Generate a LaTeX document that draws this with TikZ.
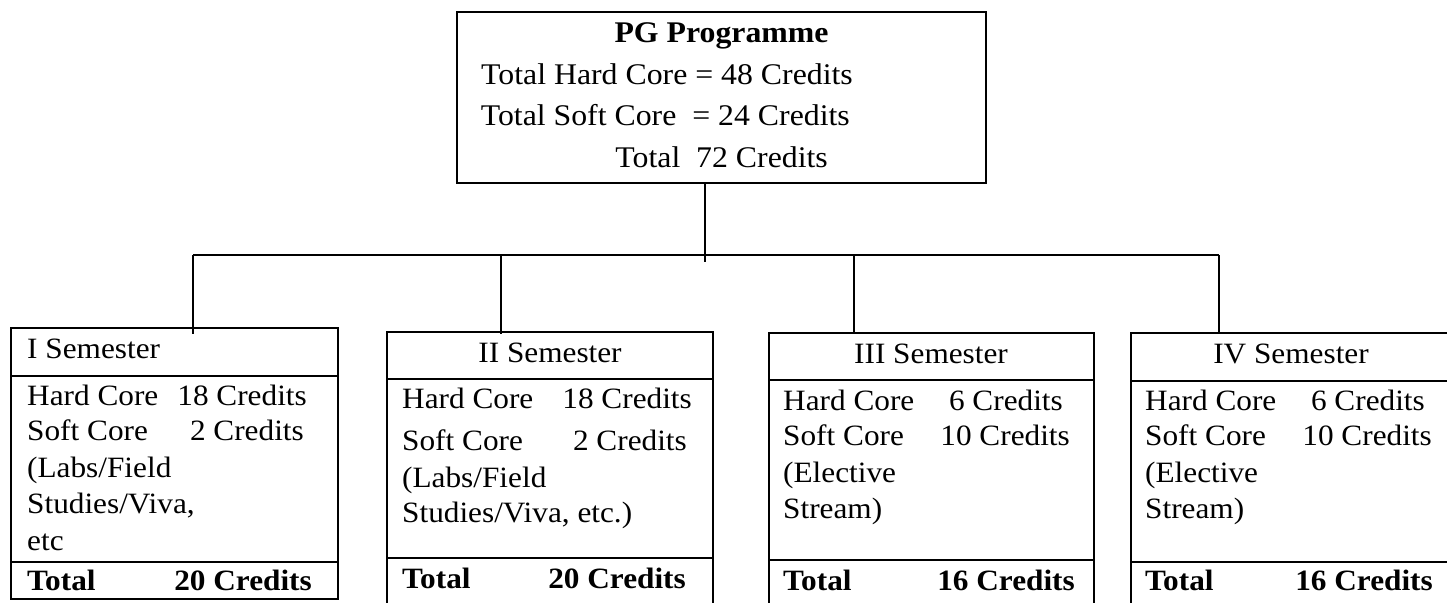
\documentclass[tikz,border=0pt]{standalone}
\usepackage{fontspec}
\setmainfont[FakeStretch=1.06]{Liberation Serif}
\newcommand\fsA{\fontsize{30}{36}\selectfont}
\newcommand\fsB{\fontsize{29.5}{35}\selectfont}
\begin{document}
\begin{tikzpicture}[x=1pt,y=-1pt,
  frame/.style={draw, line width=2pt, inner sep=0pt, outer sep=0pt, anchor=north west},
  conn/.style={draw, line width=2pt},
  rule/.style={draw, line width=2pt},
  ttl/.style={anchor=base, inner sep=0pt, font=\fsA},
  tl/.style={anchor=base west, inner sep=0pt, font=\fsA},
  tr/.style={anchor=base east, inner sep=0pt, font=\fsA},
  sl/.style={anchor=base west, inner sep=0pt, font=\fsB},
  sr/.style={anchor=base east, inner sep=0pt, font=\fsB},
  sc/.style={anchor=base, inner sep=0pt, font=\fsB}]
\useasboundingbox (0,0) rectangle (1447,602);
\clip (0,0) rectangle (1447,602);

% top box
\node[frame, minimum width=529pt, minimum height=171pt] (top) at (457,12) {};
\node[ttl] (pg) at (721.5,43) {\textbf{PG Programme}};
\node[tr] (thc) at (853,84) {Total Hard Core = 48 Credits};
\node[tr] (tsc) at (850,125) {Total Soft Core\ \ = 24 Credits};
\node[tr] (tt) at (828,167) {Total\ \ 72 Credits};

% semester boxes
\node[frame, minimum width=327pt, minimum height=271pt] (b1) at (11,328) {};
\node[frame, minimum width=326pt, minimum height=300pt] (b2) at (387,332) {};
\node[frame, minimum width=325pt, minimum height=300pt] (b3) at (769,333) {};
\node[frame, minimum width=320pt, minimum height=300pt] (b4) at (1131,333) {};

% dividers
\draw[rule] (b1.west |- 0,376) -- (b1.east |- 0,376);
\draw[rule] (b1.west |- 0,562) -- (b1.east |- 0,562);
\draw[rule] (b2.west |- 0,379) -- (b2.east |- 0,379);
\draw[rule] (b2.west |- 0,558) -- (b2.east |- 0,558);
\draw[rule] (b3.west |- 0,380) -- (b3.east |- 0,380);
\draw[rule] (b3.west |- 0,560) -- (b3.east |- 0,560);
\draw[rule] (b4.west |- 0,381) -- (b4.east |- 0,381);
\draw[rule] (b4.west |- 0,562) -- (b4.east |- 0,562);

% connectors
\coordinate (trk) at (705,262);
\coordinate (busL) at (193,255);
\coordinate (busR) at (1219,255);
\coordinate (d1) at (193,334);
\coordinate (d2) at (501,334);
\coordinate (d3) at (854,334);
\coordinate (d4) at (1219,334);
\draw[conn] (top.south -| trk) -- (trk);
\draw[conn] (busL) -- (busR);
\draw[conn] (busL) -- (d1);
\draw[conn] (d2 |- busL) -- (d2);
\draw[conn] (d3 |- busL) -- (d3);
\draw[conn] (busR) -- (d4);

% box 1 text
\node[sl] (h1) at (27,358) {I Semester};
\node[sl] (a1) at (27,405) {Hard Core};
\node[sr] (a1v) at (307,405) {18 Credits};
\node[sl] (c1) at (27,440) {Soft Core};
\node[sr] (c1v) at (304,440) {2 Credits};
\node[sl] (e1) at (27,477) {(Labs/Field};
\node[sl] (f1) at (27,513) {Studies/Viva,};
\node[sl] (g1) at (27,550) {etc};
\node[sl] (t1) at (27,590) {\textbf{Total}};
\node[sr] (t1v) at (312,590) {\textbf{20 Credits}};

% box 2 text
\node[sc] (h2) at (550,362) {II Semester};
\node[sl] (a2) at (402,408) {Hard Core};
\node[sr] (a2v) at (692,408) {18 Credits};
\node[sl] (c2) at (402,450) {Soft Core};
\node[sr] (c2v) at (687,450) {2 Credits};
\node[sl] (e2) at (402,487) {(Labs/Field};
\node[sl] (f2) at (402,522) {Studies/Viva, etc.)};
\node[sl] (t2) at (402,588) {\textbf{Total}};
\node[sr] (t2v) at (686,588) {\textbf{20 Credits}};

% box 3 text
\node[sc] (h3) at (931,363) {III Semester};
\node[sl] (a3) at (783,410) {Hard Core};
\node[sr] (a3v) at (1063,410) {6 Credits};
\node[sl] (c3) at (783,445) {Soft Core};
\node[sr] (c3v) at (1070,445) {10 Credits};
\node[sl] (e3) at (783,482) {(Elective};
\node[sl] (f3) at (783,518) {Stream)};
\node[sl] (t3) at (783,590) {\textbf{Total}};
\node[sr] (t3v) at (1075,590) {\textbf{16 Credits}};

% box 4 text
\node[sc] (h4) at (1291,363) {IV Semester};
\node[sl] (a4) at (1145,410) {Hard Core};
\node[sr] (a4v) at (1425,410) {6 Credits};
\node[sl] (c4) at (1145,445) {Soft Core};
\node[sr] (c4v) at (1432,445) {10 Credits};
\node[sl] (e4) at (1145,482) {(Elective};
\node[sl] (f4) at (1145,518) {Stream)};
\node[sl] (t4) at (1145,590) {\textbf{Total}};
\node[sr] (t4v) at (1433,590) {\textbf{16 Credits}};
\end{tikzpicture}
\end{document}
